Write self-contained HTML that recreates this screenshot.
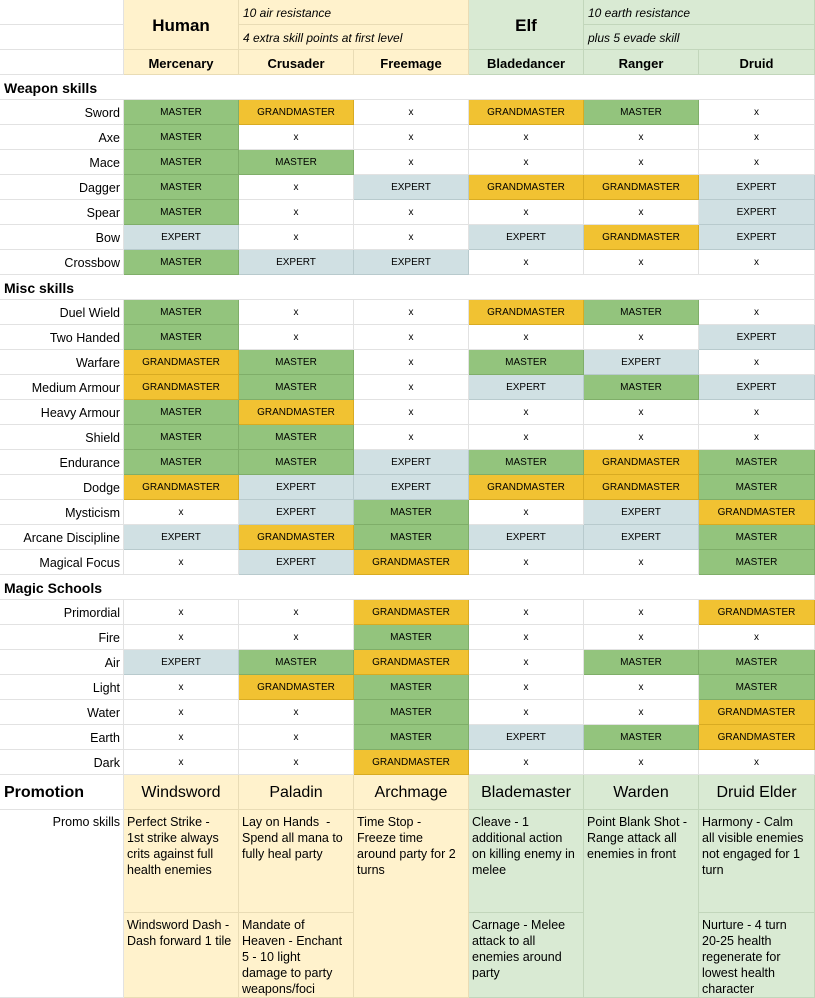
<!DOCTYPE html>
<html><head><style>
body{margin:0;width:815px;height:998px;overflow:hidden;background:#fff;font-family:"Liberation Sans",Arial,sans-serif;color:#000}
.g{display:grid;grid-template-columns:124px 115px 115px 115px 115px 115px 116px;grid-template-rows:repeat(31,25px) 35px 103px 85px;}
.g>div{box-sizing:border-box;border-right:1px solid #e2e2e2;border-bottom:1px solid #e2e2e2;overflow:hidden;white-space:nowrap}
.l{text-align:right;font-size:12.5px;line-height:27px;padding-right:3px}
.s{font-weight:bold;font-size:14px;line-height:27px;padding-left:4px}
.M,.G,.E,.x{text-align:center;font-size:10px;line-height:26px}
.g>.M{background:#93c47d;border-color:#7fae69}.g>.G{background:#f1c232;border-color:#d8ab22}.g>.E{background:#d0e0e3;border-color:#b8cacd}
.g>.h{background:#fff2cc;border-color:#e9dcb5}.g>.e{background:#d9ead3;border-color:#c2d6bb}
.cn{font-weight:bold;font-size:13px;text-align:center;line-height:27px}
.it{font-style:italic;font-size:12px;line-height:26px;padding-left:4px}
.big{font-weight:bold;font-size:17px;text-align:center;line-height:51px}
.pn{font-size:16px;text-align:center;line-height:36px}
.pt{font-size:12.5px;line-height:16px;padding:4px 2px 0 3px}
</style></head><body><div class="g">
<div style="grid-row:1;grid-column:1"></div>
<div class="h big" style="grid-row:1/3;grid-column:2">Human</div>
<div class="h it" style="grid-row:1;grid-column:3/5">10 air resistance</div>
<div class="e big" style="grid-row:1/3;grid-column:5">Elf</div>
<div class="e it" style="grid-row:1;grid-column:6/8">10 earth resistance</div>
<div style="grid-row:2;grid-column:1"></div>
<div class="h it" style="grid-row:2;grid-column:3/5">4 extra skill points at first level</div>
<div class="e it" style="grid-row:2;grid-column:6/8">plus 5 evade skill</div>
<div style="grid-row:3;grid-column:1"></div>
<div class="h cn" style="grid-row:3;grid-column:2">Mercenary</div>
<div class="h cn" style="grid-row:3;grid-column:3">Crusader</div>
<div class="h cn" style="grid-row:3;grid-column:4">Freemage</div>
<div class="e cn" style="grid-row:3;grid-column:5">Bladedancer</div>
<div class="e cn" style="grid-row:3;grid-column:6">Ranger</div>
<div class="e cn" style="grid-row:3;grid-column:7">Druid</div>

<div class="s" style="grid-column:1/4;border-right:none">Weapon skills</div><div style="border-right:none"></div><div style="grid-column:5/8"></div>
<div class="l">Sword</div><div class="M">MASTER</div><div class="G">GRANDMASTER</div><div class="x">x</div><div class="G">GRANDMASTER</div><div class="M">MASTER</div><div class="x">x</div>
<div class="l">Axe</div><div class="M">MASTER</div><div class="x">x</div><div class="x">x</div><div class="x">x</div><div class="x">x</div><div class="x">x</div>
<div class="l">Mace</div><div class="M">MASTER</div><div class="M">MASTER</div><div class="x">x</div><div class="x">x</div><div class="x">x</div><div class="x">x</div>
<div class="l">Dagger</div><div class="M">MASTER</div><div class="x">x</div><div class="E">EXPERT</div><div class="G">GRANDMASTER</div><div class="G">GRANDMASTER</div><div class="E">EXPERT</div>
<div class="l">Spear</div><div class="M">MASTER</div><div class="x">x</div><div class="x">x</div><div class="x">x</div><div class="x">x</div><div class="E">EXPERT</div>
<div class="l">Bow</div><div class="E">EXPERT</div><div class="x">x</div><div class="x">x</div><div class="E">EXPERT</div><div class="G">GRANDMASTER</div><div class="E">EXPERT</div>
<div class="l">Crossbow</div><div class="M">MASTER</div><div class="E">EXPERT</div><div class="E">EXPERT</div><div class="x">x</div><div class="x">x</div><div class="x">x</div>
<div class="s" style="grid-column:1/4;border-right:none">Misc skills</div><div style="border-right:none"></div><div style="grid-column:5/8"></div>
<div class="l">Duel Wield</div><div class="M">MASTER</div><div class="x">x</div><div class="x">x</div><div class="G">GRANDMASTER</div><div class="M">MASTER</div><div class="x">x</div>
<div class="l">Two Handed</div><div class="M">MASTER</div><div class="x">x</div><div class="x">x</div><div class="x">x</div><div class="x">x</div><div class="E">EXPERT</div>
<div class="l">Warfare</div><div class="G">GRANDMASTER</div><div class="M">MASTER</div><div class="x">x</div><div class="M">MASTER</div><div class="E">EXPERT</div><div class="x">x</div>
<div class="l">Medium Armour</div><div class="G">GRANDMASTER</div><div class="M">MASTER</div><div class="x">x</div><div class="E">EXPERT</div><div class="M">MASTER</div><div class="E">EXPERT</div>
<div class="l">Heavy Armour</div><div class="M">MASTER</div><div class="G">GRANDMASTER</div><div class="x">x</div><div class="x">x</div><div class="x">x</div><div class="x">x</div>
<div class="l">Shield</div><div class="M">MASTER</div><div class="M">MASTER</div><div class="x">x</div><div class="x">x</div><div class="x">x</div><div class="x">x</div>
<div class="l">Endurance</div><div class="M">MASTER</div><div class="M">MASTER</div><div class="E">EXPERT</div><div class="M">MASTER</div><div class="G">GRANDMASTER</div><div class="M">MASTER</div>
<div class="l">Dodge</div><div class="G">GRANDMASTER</div><div class="E">EXPERT</div><div class="E">EXPERT</div><div class="G">GRANDMASTER</div><div class="G">GRANDMASTER</div><div class="M">MASTER</div>
<div class="l">Mysticism</div><div class="x">x</div><div class="E">EXPERT</div><div class="M">MASTER</div><div class="x">x</div><div class="E">EXPERT</div><div class="G">GRANDMASTER</div>
<div class="l">Arcane Discipline</div><div class="E">EXPERT</div><div class="G">GRANDMASTER</div><div class="M">MASTER</div><div class="E">EXPERT</div><div class="E">EXPERT</div><div class="M">MASTER</div>
<div class="l">Magical Focus</div><div class="x">x</div><div class="E">EXPERT</div><div class="G">GRANDMASTER</div><div class="x">x</div><div class="x">x</div><div class="M">MASTER</div>
<div class="s" style="grid-column:1/4;border-right:none">Magic Schools</div><div style="border-right:none"></div><div style="grid-column:5/8"></div>
<div class="l">Primordial</div><div class="x">x</div><div class="x">x</div><div class="G">GRANDMASTER</div><div class="x">x</div><div class="x">x</div><div class="G">GRANDMASTER</div>
<div class="l">Fire</div><div class="x">x</div><div class="x">x</div><div class="M">MASTER</div><div class="x">x</div><div class="x">x</div><div class="x">x</div>
<div class="l">Air</div><div class="E">EXPERT</div><div class="M">MASTER</div><div class="G">GRANDMASTER</div><div class="x">x</div><div class="M">MASTER</div><div class="M">MASTER</div>
<div class="l">Light</div><div class="x">x</div><div class="G">GRANDMASTER</div><div class="M">MASTER</div><div class="x">x</div><div class="x">x</div><div class="M">MASTER</div>
<div class="l">Water</div><div class="x">x</div><div class="x">x</div><div class="M">MASTER</div><div class="x">x</div><div class="x">x</div><div class="G">GRANDMASTER</div>
<div class="l">Earth</div><div class="x">x</div><div class="x">x</div><div class="M">MASTER</div><div class="E">EXPERT</div><div class="M">MASTER</div><div class="G">GRANDMASTER</div>
<div class="l">Dark</div><div class="x">x</div><div class="x">x</div><div class="G">GRANDMASTER</div><div class="x">x</div><div class="x">x</div><div class="x">x</div>

<div style="grid-row:32;grid-column:1;font-weight:bold;font-size:16px;line-height:36px;padding-left:4px">Promotion</div>
<div class="h pn" style="grid-row:32;grid-column:2">Windsword</div>
<div class="h pn" style="grid-row:32;grid-column:3">Paladin</div>
<div class="h pn" style="grid-row:32;grid-column:4">Archmage</div>
<div class="e pn" style="grid-row:32;grid-column:5">Blademaster</div>
<div class="e pn" style="grid-row:32;grid-column:6">Warden</div>
<div class="e pn" style="grid-row:32;grid-column:7">Druid Elder</div>
<div style="grid-row:33/35;grid-column:1;text-align:right;font-size:12.5px;line-height:16px;padding:4px 3px 0 0">Promo skills</div>
<div class="h pt" style="grid-row:33;grid-column:2">Perfect Strike -<br>1st strike always<br>crits against full<br>health enemies</div>
<div class="h pt" style="grid-row:33;grid-column:3">Lay on Hands &nbsp;-<br>Spend all mana to<br>fully heal party</div>
<div class="h pt" style="grid-row:33/35;grid-column:4">Time Stop -<br>Freeze time<br>around party for 2<br>turns</div>
<div class="e pt" style="grid-row:33;grid-column:5">Cleave - 1<br>additional action<br>on killing enemy in<br>melee</div>
<div class="e pt" style="grid-row:33/35;grid-column:6">Point Blank Shot -<br>Range attack all<br>enemies in front</div>
<div class="e pt" style="grid-row:33;grid-column:7">Harmony - Calm<br>all visible enemies<br>not engaged for 1<br>turn</div>
<div class="h pt" style="grid-row:34;grid-column:2">Windsword Dash -<br>Dash forward 1 tile</div>
<div class="h pt" style="grid-row:34;grid-column:3">Mandate of<br>Heaven - Enchant<br>5 - 10 light<br>damage to party<br>weapons/foci</div>
<div class="e pt" style="grid-row:34;grid-column:5">Carnage - Melee<br>attack to all<br>enemies around<br>party</div>
<div class="e pt" style="grid-row:34;grid-column:7">Nurture - 4 turn<br>20-25 health<br>regenerate for<br>lowest health<br>character</div>
</div></body></html>
